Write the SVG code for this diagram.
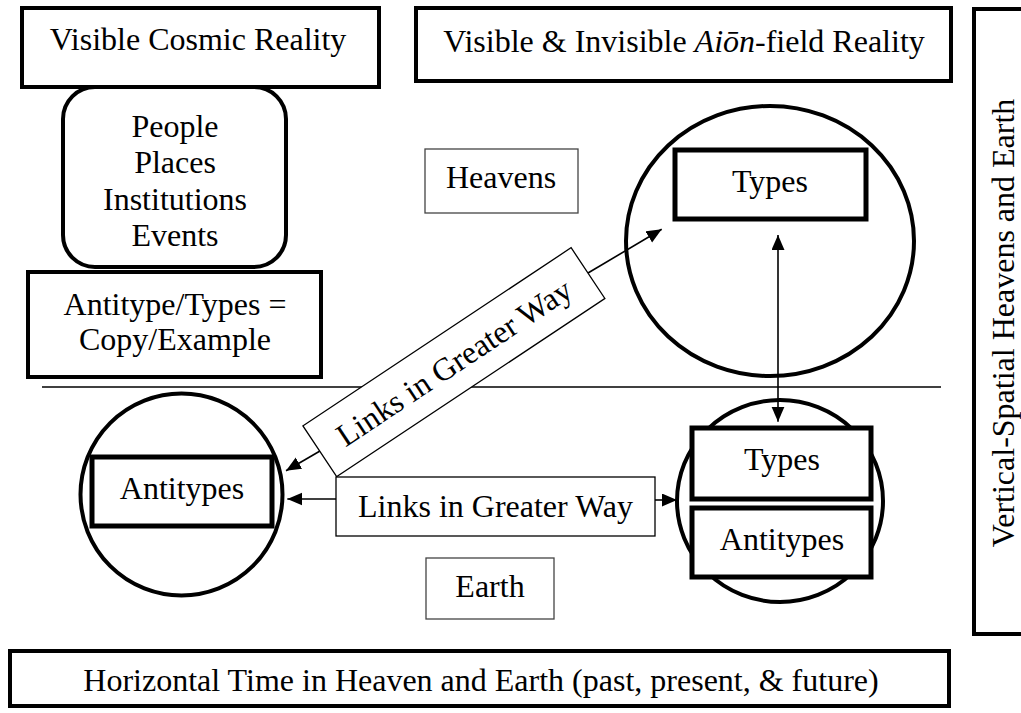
<svg xmlns="http://www.w3.org/2000/svg" width="1021" height="713" viewBox="0 0 1021 713">
<style>
text{font-family:"Liberation Serif","Times New Roman",serif;font-size:32px;fill:#000;text-anchor:middle}
.thick{fill:#fff;stroke:#000;stroke-width:4}
.heavy{fill:#fff;stroke:#000;stroke-width:5}
.thin{fill:#fff;stroke:#444;stroke-width:1.3}
.ring{fill:none;stroke:#000;stroke-width:4}
.conn{fill:none;stroke:#000;stroke-width:1.6}
</style>
<defs>
<marker id="ah" markerUnits="userSpaceOnUse" markerWidth="16" markerHeight="14" refX="15" refY="6.5" orient="auto-start-reverse">
<path d="M0,0 L15,6.5 L0,13 z" fill="#000"/>
</marker>
</defs>
<rect width="1021" height="713" fill="#fff"/>

<g id="divider">
<line x1="42" y1="387" x2="941" y2="387" stroke="#000" stroke-width="1.6"/>
</g>

<g id="visible-cosmic">
<rect class="thick" x="22" y="8" width="357" height="79"/>
<text x="198" y="50">Visible Cosmic Reality</text>
</g>

<g id="aion-field">
<rect class="thick" x="416" y="8" width="535" height="73"/>
<text x="684" y="52">Visible &amp; Invisible <tspan font-style="italic">Aiōn</tspan>-field Reality</text>
</g>

<g id="vertical-spatial">
<rect class="thick" x="974" y="9" width="70" height="625"/>
<text transform="translate(1014,323) rotate(-90)">Vertical-Spatial Heavens and Earth</text>
</g>

<g id="people">
<rect class="thick" x="63" y="87" width="223" height="180" rx="32"/>
<text x="175" y="137">People</text>
<text x="175" y="173">Places</text>
<text x="175" y="210">Institutions</text>
<text x="175" y="246">Events</text>
</g>

<g id="copy-example">
<rect class="thick" x="28" y="272" width="293" height="105"/>
<text x="175" y="315">Antitype/Types =</text>
<text x="175" y="350">Copy/Example</text>
</g>

<g id="heavens">
<rect class="thin" x="425" y="149" width="153" height="64" stroke="#666"/>
<text x="501" y="188">Heavens</text>
</g>

<g id="heaven-types">
<ellipse class="ring" cx="770" cy="241" rx="144" ry="135"/>
<rect class="heavy" x="675" y="150" width="191" height="69"/>
<text x="770" y="192">Types</text>
</g>

<g id="left-antitypes">
<circle class="ring" cx="181.5" cy="494.5" r="101"/>
<rect class="heavy" x="92" y="457" width="180" height="69"/>
<text x="182" y="499">Antitypes</text>
</g>

<g id="earth-types-antitypes">
<ellipse class="ring" cx="780" cy="501" rx="103" ry="101"/>
<rect class="heavy" x="692" y="428" width="179" height="71"/>
<text x="782" y="470">Types</text>
<rect class="heavy" x="692" y="508" width="179" height="69"/>
<text x="782" y="550">Antitypes</text>
</g>

<g id="connectors">
<line class="conn" x1="588" y1="273" x2="661.7" y2="229.3" marker-end="url(#ah)"/>
<line class="conn" x1="320" y1="451" x2="286" y2="470.7" marker-end="url(#ah)"/>
<line class="conn" x1="778" y1="235" x2="778" y2="421.7" marker-start="url(#ah)" marker-end="url(#ah)"/>
<line class="conn" x1="336" y1="499" x2="287.3" y2="499" marker-end="url(#ah)"/>
<line class="conn" x1="655" y1="500" x2="677" y2="500" marker-end="url(#ah)"/>
</g>

<g id="links-diagonal">
<g transform="translate(453.9,362.2) rotate(-33.6)">
<rect x="-161" y="-30.5" width="322" height="61" fill="#fff" stroke="#000" stroke-width="1.3"/>
<text x="0" y="11">Links in Greater Way</text>
</g>
</g>

<g id="links-horizontal">
<rect x="336" y="477" width="319" height="59" fill="#fff" stroke="#000" stroke-width="1.3"/>
<text x="495.5" y="517">Links in Greater Way</text>
</g>

<g id="earth">
<rect class="thin" x="426" y="558" width="128" height="61" stroke="#666"/>
<text x="490" y="597">Earth</text>
</g>

<g id="horizontal-time">
<rect class="thick" x="10" y="651" width="939" height="55"/>
<text x="481" y="691">Horizontal Time in Heaven and Earth (past, present, &amp; future)</text>
</g>
</svg>
